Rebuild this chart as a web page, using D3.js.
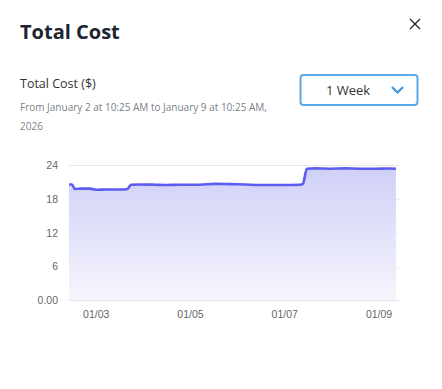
<!DOCTYPE html>
<html><head><meta charset="utf-8">
<script src="https://cdn.jsdelivr.net/npm/d3@7"></script>
<style>
html,body{margin:0;padding:0;background:#fff;}
svg{display:block;font-family:"Open Sans",sans-serif;}
</style></head>
<body><svg id="c" width="442" height="389"></svg>
<script>
const title = "Total Cost";
const metricLabel = "Total Cost ($)";
const rangeLine1 = "From January 2 at 10:25 AM to January 9 at 10:25 AM,";
const rangeLine2 = "2026";
const periodLabel = "1 Week";
const domainStart = "2026-01-02T10:25";
const domainEnd = "2026-01-09T10:25";
const times = ["2026-01-02T10:25","2026-01-02T11:55","2026-01-02T13:25","2026-01-02T17:00","2026-01-02T21:05",
 "2026-01-03T00:40","2026-01-03T04:45","2026-01-03T09:50","2026-01-03T14:55","2026-01-03T16:25","2026-01-03T18:00",
 "2026-01-03T22:30","2026-01-04T06:15","2026-01-04T11:20","2026-01-04T18:55","2026-01-05T05:05","2026-01-05T12:45",
 "2026-01-05T20:25","2026-01-06T04:00","2026-01-06T11:40","2026-01-06T21:50","2026-01-07T08:00","2026-01-07T09:30",
 "2026-01-07T11:30","2026-01-07T15:35","2026-01-07T23:15","2026-01-08T07:00","2026-01-08T14:35","2026-01-08T22:15",
 "2026-01-09T05:50","2026-01-09T08:50"];
const values = [20.6,20.6,19.8,19.85,19.85,19.65,19.7,19.7,19.7,19.85,20.55,20.6,20.55,20.5,20.55,20.55,20.7,
 20.65,20.6,20.5,20.5,20.55,20.7,23.4,23.45,23.4,23.45,23.4,23.4,23.42,23.4];
const yTicks = [0,6,12,18,24];
const yTickLabels = ["0.00","6","12","18","24"];
const xTicks = ["2026-01-03","2026-01-05","2026-01-07","2026-01-09"];
const xTickLabels = ["01/03","01/05","01/07","01/09"];

const parse = d3.timeParse("%Y-%m-%dT%H:%M");
const parseD = d3.timeParse("%Y-%m-%d");
const data = times.map((t,i)=>({t:parse(t), v:values[i]}));
const svg = d3.select("#c");

svg.append("text").attr("x",20).attr("y",39).attr("font-size",20).attr("font-weight",700)
  .attr("fill","#1d2530").text(title);
// close X
svg.append("path").attr("d","M410,19 L420,29 M420,19 L410,29").attr("stroke","#222").attr("stroke-width",1.3);

svg.append("text").attr("x",20).attr("y",88).attr("font-size",12.5).attr("fill","#333").text(metricLabel);
svg.append("text").attr("x",20).attr("y",111).attr("font-size",10).attr("fill","#7a7f88").text(rangeLine1);
svg.append("text").attr("x",20).attr("y",130).attr("font-size",10).attr("fill","#7a7f88").text(rangeLine2);

// dropdown
svg.append("rect").attr("x",300.5).attr("y",75).attr("width",117).attr("height",30).attr("rx",3)
  .attr("fill","#fff").attr("stroke","#5ba9e6").attr("stroke-width",2);
svg.append("text").attr("x",348).attr("y",95).attr("text-anchor","middle").attr("font-size",13)
  .attr("fill","#333").text(periodLabel);
svg.append("path").attr("d","M392,87 L397.5,92.5 L403,87").attr("fill","none").attr("stroke","#3b93dd")
  .attr("stroke-width",2.2);

const x = d3.scaleTime().domain([parse(domainStart), parse(domainEnd)]).range([69,399]);
const y = d3.scaleLinear().domain([0,24]).range([300.3,165.3]);

const defs = svg.append("defs");
const g = defs.append("linearGradient").attr("id","fillg").attr("x1",0).attr("y1",0).attr("x2",0).attr("y2",1);
g.append("stop").attr("offset","0%").attr("stop-color","#d0d0f7");
g.append("stop").attr("offset","100%").attr("stop-color","#f5f5fd");

const axFont = "'Liberation Sans', Arial, sans-serif";
const yAxis = d3.axisLeft(y).tickValues(yTicks).tickFormat((d,i)=>yTickLabels[i]).tickSize(0).tickPadding(0);
const ya = svg.append("g").attr("transform","translate(58,0)").call(yAxis);
ya.select(".domain").remove();
ya.selectAll("text").attr("font-size",10.5).attr("fill","#666").attr("font-family",axFont);
svg.append("g").selectAll("line").data(yTicks).join("line")
  .attr("x1",69).attr("x2",399).attr("y1",d=>Math.round(y(d))+0.5).attr("y2",d=>Math.round(y(d))+0.5)
  .attr("stroke",d=>d===0?"#dcdce4":"#e8e8ee").attr("stroke-width",1);

const area = d3.area().x(d=>x(d.t)).y0(y(0)).y1(d=>y(d.v)).curve(d3.curveMonotoneX);
const line = d3.line().x(d=>x(d.t)).y(d=>y(d.v)).curve(d3.curveMonotoneX);
svg.append("path").datum(data).attr("d",area).attr("fill","url(#fillg)");
svg.append("path").datum(data).attr("d",line).attr("fill","none").attr("stroke","#5b5cf0").attr("stroke-width",2.6);

const xAxis = d3.axisBottom(x).tickValues(xTicks.map(parseD)).tickFormat((d,i)=>xTickLabels[i]).tickSize(0).tickPadding(0);
const xa = svg.append("g").attr("transform","translate(0,318)").call(xAxis);
xa.select(".domain").remove();
xa.selectAll("text").attr("font-size",10.5).attr("fill","#666").attr("font-family",axFont).attr("dy",0);
</script></body></html>
